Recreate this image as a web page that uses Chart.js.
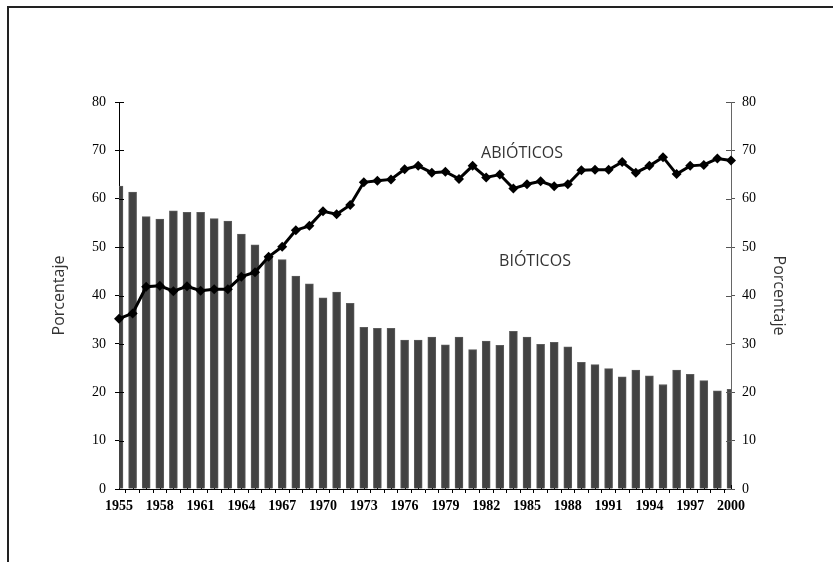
<!DOCTYPE html>
<html lang="es">
<head>
    <meta charset="UTF-8">
    <title>Bióticos y abióticos 1955-2000</title>
    <script src="https://cdn.jsdelivr.net/npm/chart.js"></script>
    <style>
        html, body {
            margin: 0;
            padding: 0;
            background: #ffffff;
            overflow: hidden;
        }
        .frame {
            position: absolute;
            left: 7px;
            top: 6px;
            width: 900px;
            height: 700px;
            border-left: 2px solid #222;
            border-top: 2px solid #222;
        }
        .chart-box {
            position: absolute;
            left: 0;
            top: 0;
            width: 833px;
            height: 562px;
        }
    </style>
</head>
<body>
    <div class="frame"></div>
    <div class="chart-box">
        <canvas id="mainChart"></canvas>
    </div>

    <script>
        const years = [
            "1955", "1956", "1957", "1958", "1959", "1960", "1961", "1962", "1963", "1964",
            "1965", "1966", "1967", "1968", "1969", "1970", "1971", "1972", "1973", "1974",
            "1975", "1976", "1977", "1978", "1979", "1980", "1981", "1982", "1983", "1984",
            "1985", "1986", "1987", "1988", "1989", "1990", "1991", "1992", "1993", "1994",
            "1995", "1996", "1997", "1998", "1999", "2000"
        ];

        // porcentaje de bióticos (barras)
        const bioticos = [
            62.6, 61.4, 56.3, 55.8, 57.5, 57.2, 57.2, 55.9, 55.4, 52.7,
            50.5, 48.0, 47.4, 44.0, 42.4, 39.5, 40.7, 38.4, 33.4, 33.2,
            33.2, 30.8, 30.8, 31.4, 29.8, 31.4, 28.8, 30.6, 29.7, 32.6,
            31.4, 29.9, 30.3, 29.4, 26.2, 25.7, 24.9, 23.2, 24.6, 23.4,
            21.6, 24.6, 23.7, 22.4, 20.3, 20.6
        ];

        // porcentaje de abióticos (línea)
        const abioticos = [
            35.2, 36.3, 41.8, 42.0, 40.9, 41.9, 41.0, 41.3, 41.3, 43.9,
            44.8, 48.0, 50.1, 53.5, 54.4, 57.4, 56.8, 58.7, 63.4, 63.7,
            64.0, 66.1, 66.8, 65.4, 65.6, 64.1, 66.8, 64.4, 65.0, 62.1,
            63.0, 63.6, 62.6, 63.0, 65.9, 66.0, 66.0, 67.6, 65.4, 66.8,
            68.6, 65.1, 66.8, 67.0, 68.3, 67.9
        ];

        const yTicks = [0, 10, 20, 30, 40, 50, 60, 70, 80];

        const tickFont = { family: "'Liberation Serif', 'Times New Roman', serif", size: 14 };
        const titleFont = { family: "'Open Sans', sans-serif", size: 16 };

        // ticks that cross the axis lines (inner half)
        const crossTicks = {
            id: "crossTicks",
            beforeDatasetsDraw(chart) {
                const ctx = chart.ctx;
                const x = chart.scales.x;
                const area = chart.chartArea;
                ctx.save();
                ctx.strokeStyle = "#000";
                ctx.lineWidth = 1;
                ctx.beginPath();
                x.ticks.forEach((t, i) => {
                    const px = Math.round(x.getPixelForTick(i)) + 0.5;
                    ctx.moveTo(px, area.bottom);
                    ctx.lineTo(px, area.bottom - 4);
                });
                ctx.stroke();
                ctx.restore();
            },
            afterDraw(chart) {
                const ctx = chart.ctx;
                const area = chart.chartArea;
                ctx.save();
                ctx.lineWidth = 1;
                ["y", "y2"].forEach(id => {
                    const s = chart.scales[id];
                    ctx.strokeStyle = id === "y" ? "#000" : "#555";
                    ctx.beginPath();
                    s.ticks.forEach((t, i) => {
                        const py = Math.round(s.getPixelForTick(i)) + 0.5;
                        if (id === "y") {
                            ctx.moveTo(area.left, py);
                            ctx.lineTo(area.left + 5, py);
                        } else {
                            ctx.moveTo(area.right, py);
                            ctx.lineTo(area.right - 5, py);
                        }
                    });
                    ctx.stroke();
                });

                // series names
                ctx.fillStyle = "#333";
                ctx.font = "16px 'Open Sans', sans-serif";
                ctx.textAlign = "center";
                ctx.textBaseline = "alphabetic";
                ctx.fillText("ABIÓTICOS", area.left + 403, area.top + 56);
                ctx.fillText("BIÓTICOS", area.left + 416, area.top + 164);
                ctx.restore();
            }
        };

        const ctx = document.getElementById("mainChart").getContext("2d");
        new Chart(ctx, {
            type: "bar",
            data: {
                labels: years,
                datasets: [
                    {
                        type: "line",
                        label: "ABIÓTICOS",
                        data: abioticos,
                        yAxisID: "y",
                        borderColor: "#000",
                        borderWidth: 3,
                        backgroundColor: "#000",
                        pointStyle: "rectRot",
                        pointRadius: 5,
                        pointBackgroundColor: "#000",
                        pointBorderWidth: 0,
                        tension: 0,
                        order: 0
                    },
                    {
                        type: "bar",
                        label: "BIÓTICOS",
                        data: bioticos,
                        yAxisID: "y",
                        backgroundColor: "#424242",
                        borderColor: "#5c5c5c",
                        borderWidth: 1,
                        barThickness: 8,
                        order: 1
                    }
                ]
            },
            options: {
                responsive: true,
                maintainAspectRatio: false,
                animation: false,
                layout: { padding: { top: 102, left: 0, right: 0, bottom: 0 } },
                plugins: {
                    legend: { display: false },
                    tooltip: { enabled: false }
                },
                scales: {
                    x: {
                        offset: false,
                        grid: { display: true, drawOnChartArea: false, tickLength: 4, color: "#000" },
                        border: { color: "#000", width: 1 },
                        ticks: {
                            autoSkip: false,
                            maxRotation: 0,
                            padding: 5,
                            color: "#000",
                            font: { ...tickFont, weight: "bold" },
                            callback: (v, i) => (i % 3 === 0 || i === years.length - 1) ? years[i] : ""
                        },
                        afterFit: s => { s.height = 73; }
                    },
                    y: {
                        position: "left",
                        min: 0,
                        max: 80,
                        afterBuildTicks: s => { s.ticks = yTicks.map(v => ({ value: v })); },
                        grid: { drawOnChartArea: false, tickLength: 4, color: "#000" },
                        border: { color: "#000", width: 1 },
                        ticks: { padding: 9, color: "#000", font: tickFont },
                        title: {
                            display: true,
                            text: "Porcentaje",
                            color: "#333",
                            font: titleFont,
                            padding: { top: 50, bottom: 0 }
                        },
                        afterFit: s => { s.width = 119; }
                    },
                    y2: {
                        position: "right",
                        min: 0,
                        max: 80,
                        afterBuildTicks: s => { s.ticks = yTicks.map(v => ({ value: v })); },
                        grid: { drawOnChartArea: false, tickLength: 4, color: "#555" },
                        border: { color: "#666", width: 1 },
                        ticks: { padding: 7, color: "#000", font: tickFont },
                        title: {
                            display: true,
                            text: "Porcentaje",
                            color: "#333",
                            font: titleFont,
                            padding: { top: 45, bottom: 0 }
                        },
                        afterFit: s => { s.width = 102; }
                    }
                }
            },
            plugins: [crossTicks]
        });
    </script>
</body>
</html>
